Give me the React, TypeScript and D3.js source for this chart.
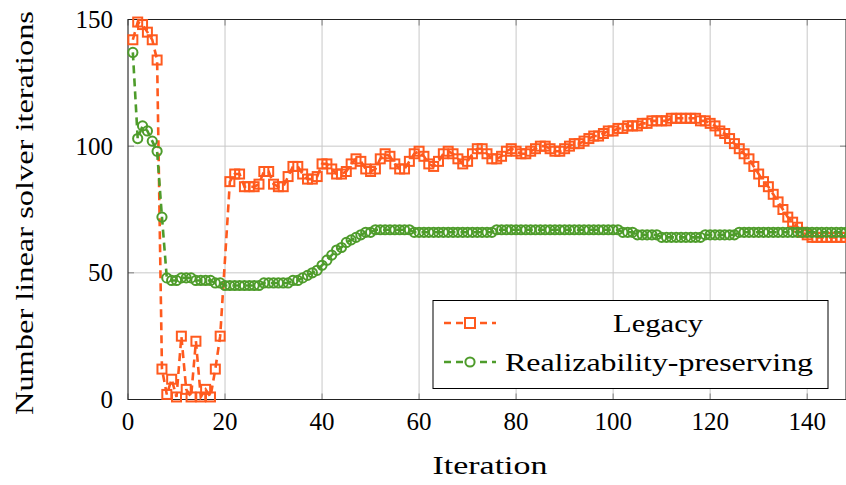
import React from "react";
import * as d3 from "d3";

const xTicks = [0, 20, 40, 60, 80, 100, 120, 140];
const yTicks = [0, 50, 100, 150];

// Legacy: iterations 1..148 (iteration 20 missing -> null)
const legacy: (number | null)[] = [
  142, 149, 148, 145, 142, 134, 12, 2, 8, 1,
  25, 4, 1, 23, 1, 4, 1, 12, 25, null,
  86, 89, 89, 84, 84, 84, 85, 90, 90, 85,
  84, 84, 88, 92, 92, 89, 87, 87, 88, 93,
  93, 91, 89, 89, 90, 93, 95, 94, 91, 90,
  91, 95, 97, 96, 93, 91, 91, 94, 97, 98,
  96, 93, 92, 94, 97, 98, 97, 95, 93, 94,
  97, 99, 99, 97, 95, 95, 96, 98, 99, 98,
  97, 97, 98, 99, 100, 100, 99, 98, 98, 99,
  100, 101, 101, 102, 103, 104, 104, 105, 106, 106,
  107, 107, 108, 108, 108, 109, 109, 110, 110, 110,
  110, 111, 111, 111, 111, 111, 111, 110, 110, 109,
  108, 106, 105, 103, 101, 99, 97, 95, 92, 89,
  86, 84, 81, 78, 75, 72, 70, 68, 66, 65,
  64, 64, 64, 64, 64, 64, 64, 64,
];

const realizability: number[] = [
  137, 103, 108, 106, 102, 98, 72, 48, 47, 47,
  48, 48, 48, 47, 47, 47, 47, 46, 46, 45,
  45, 45, 45, 45, 45, 45, 45, 46, 46, 46,
  46, 46, 46, 47, 47, 48, 49, 50, 51, 53,
  55, 57, 59, 60, 62, 63, 64, 65, 66, 66,
  67, 67, 67, 67, 67, 67, 67, 67, 66, 66,
  66, 66, 66, 66, 66, 66, 66, 66, 66, 66,
  66, 66, 66, 66, 66, 67, 67, 67, 67, 67,
  67, 67, 67, 67, 67, 67, 67, 67, 67, 67,
  67, 67, 67, 67, 67, 67, 67, 67, 67, 67,
  67, 66, 66, 66, 65, 65, 65, 65, 65, 64,
  64, 64, 64, 64, 64, 64, 64, 64, 65, 65,
  65, 65, 65, 65, 65, 66, 66, 66, 66, 66,
  66, 66, 66, 66, 66, 66, 66, 66, 66, 66,
  66, 66, 66, 66, 66, 66, 66, 66,
];

const seriesNames = ["Legacy", "Realizability-preserving"];
const ORANGE = "#ff5a1e";
const GREEN = "#4e9c2b";

const W = 846;
const H = 485;
const L = 128;
const R = 846;
const T = 19.5;
const B = 399.5;

export default function App() {
  const x = d3.scaleLinear().domain([0, 148]).range([L, R]);
  const y = d3.scaleLinear().domain([0, 150]).range([B, T]);

  const legPts = legacy
    .map((v, i) => ({ i: i + 1, v }))
    .filter((d) => d.v !== null) as { i: number; v: number }[];
  const realPts = realizability.map((v, i) => ({ i: i + 1, v }));

  const line = d3
    .line<{ i: number; v: number }>()
    .x((d) => x(d.i))
    .y((d) => y(d.v));

  const font = "'Liberation Serif', 'DejaVu Serif', serif";
  const sq = 9;

  return (
    <svg
      width={W}
      height={H}
      style={{ position: "absolute", left: 0, top: 0, background: "#fff" }}
      fontFamily={font}
    >
      <rect x={0} y={0} width={W} height={H} fill="#fff" />
      {/* grid */}
      {xTicks.map((t) => (
        <line key={"gx" + t} x1={x(t)} x2={x(t)} y1={T} y2={B} stroke="#c8c8c8" strokeWidth={1} />
      ))}
      {yTicks.map((t) => (
        <line key={"gy" + t} x1={L} x2={R} y1={y(t)} y2={y(t)} stroke="#c8c8c8" strokeWidth={1} />
      ))}
      {/* ticks */}
      {xTicks.map((t) => (
        <g key={"tx" + t}>
          <line x1={x(t)} x2={x(t)} y1={B} y2={B - 6} stroke="#808080" strokeWidth={1} />
          <line x1={x(t)} x2={x(t)} y1={T} y2={T + 6} stroke="#808080" strokeWidth={1} />
        </g>
      ))}
      {yTicks.map((t) => (
        <g key={"ty" + t}>
          <line x1={L} x2={L + 6} y1={y(t)} y2={y(t)} stroke="#808080" strokeWidth={1} />
          <line x1={R} x2={R - 6} y1={y(t)} y2={y(t)} stroke="#808080" strokeWidth={1} />
        </g>
      ))}
      {/* frame */}
      <rect x={L} y={T} width={R - L} height={B - T} fill="none" stroke="#222" strokeWidth={1} />

      {/* legacy */}
      <path d={line(legPts) || ""} fill="none" stroke={ORANGE} strokeWidth={2.6} strokeDasharray="8,5" />
      {legPts.map((d) => (
        <rect
          key={"l" + d.i}
          x={x(d.i) - sq / 2}
          y={y(d.v) - sq / 2}
          width={sq}
          height={sq}
          fill="none"
          stroke={ORANGE}
          strokeWidth={2}
        />
      ))}
      {/* realizability */}
      <path d={line(realPts) || ""} fill="none" stroke={GREEN} strokeWidth={2.6} strokeDasharray="8,5" />
      {realPts.map((d) => (
        <circle key={"r" + d.i} cx={x(d.i)} cy={y(d.v)} r={4.6} fill="none" stroke={GREEN} strokeWidth={2} />
      ))}

      {/* tick labels */}
      {xTicks.map((t) => (
        <text key={"xl" + t} x={x(t)} y={430} textAnchor="middle" fontSize={25} fill="#000">
          {t}
        </text>
      ))}
      {yTicks.map((t) => (
        <text key={"yl" + t} x={113} y={y(t) + 8.5} textAnchor="end" fontSize={25} fill="#000">
          {t}
        </text>
      ))}

      {/* axis labels */}
      <text x={490} y={474} textAnchor="middle" fontSize={25} fill="#000" textLength={115} lengthAdjust="spacingAndGlyphs">
        Iteration
      </text>
      <text
        transform={`translate(33,213) rotate(-90)`}
        textAnchor="middle"
        fontSize={25}
        fill="#000"
        textLength={404}
        lengthAdjust="spacingAndGlyphs"
      >
        Number linear solver iterations
      </text>

      {/* legend */}
      <rect x={433} y={300.5} width={395} height={88} fill="#fff" stroke="#000" strokeWidth={1} />
      <line x1={444} x2={496} y1={323} y2={323} stroke={ORANGE} strokeWidth={2.6} strokeDasharray="7,5" />
      <rect x={470 - 5} y={323 - 5} width={10} height={10} fill="#fff" stroke={ORANGE} strokeWidth={2} />
      <line x1={444} x2={496} y1={362} y2={362} stroke={GREEN} strokeWidth={2.6} strokeDasharray="7,5" />
      <circle cx={470} cy={362} r={4.6} fill="#fff" stroke={GREEN} strokeWidth={2} />
      <text x={658} y={332} textAnchor="middle" fontSize={25} fill="#000" textLength={90} lengthAdjust="spacingAndGlyphs">
        {seriesNames[0]}
      </text>
      <text x={659} y={371} textAnchor="middle" fontSize={25} fill="#000" textLength={308} lengthAdjust="spacingAndGlyphs">
        {seriesNames[1]}
      </text>
    </svg>
  );
}
